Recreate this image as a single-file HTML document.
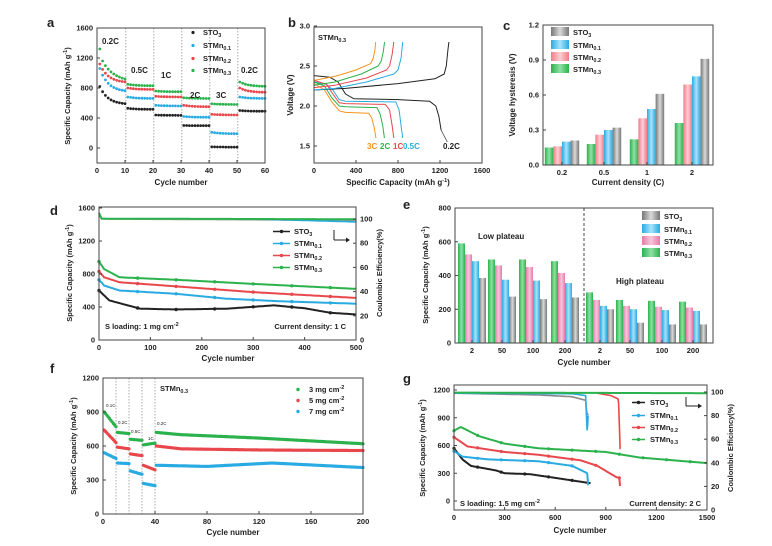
<!DOCTYPE html>
<html><head><meta charset="utf-8"><style>
html,body{margin:0;padding:0;background:#fff;}
svg{display:block;font-family:"Liberation Sans",Arial,sans-serif;}
</style></head><body>
<svg id="s" width="772" height="546" viewBox="0 0 772 546" xmlns="http://www.w3.org/2000/svg"></svg>
<script>
var o='<rect width="772" height="546" fill="#fff"/>';
var K='#222',B='#29abe2',R='#e8474c',G='#2bb24c',O='#f7931e';
function mk(a,b,p,q){return function(v){return p+(v-a)*(q-p)/(b-a);};}
function interp(k,c){if(c<=k[0][0])return k[0][1];for(var i=0;i<k.length-1;i++){if(c<=k[i+1][0]){var t=(c-k[i][0])/(k[i+1][0]-k[i][0]);return k[i][1]+t*(k[i+1][1]-k[i][1]);}}return k[k.length-1][1];}
function T(x,y,s,sz,anc,w,rot,fill){o+='<text x="'+x+'" y="'+y+'" font-size="'+(sz||7.5)+'" text-anchor="'+(anc||'start')+'" font-weight="'+(w||'bold')+'" fill="'+(fill||'#222')+'"'+(rot?' transform="rotate(-90 '+x+' '+y+')"':'')+'>'+s+'</text>';}
function L(x1,y1,x2,y2,c,w,d){o+='<line x1="'+x1+'" y1="'+y1+'" x2="'+x2+'" y2="'+y2+'" stroke="'+(c||'#333')+'" stroke-width="'+(w||1)+'"'+(d?' stroke-dasharray="'+d+'"':'')+'/>';}
function box(x0,y0,x1,y1){o+='<rect x="'+x0+'" y="'+y0+'" width="'+(x1-x0)+'" height="'+(y1-y0)+'" fill="none" stroke="#444" stroke-width="1"/>';}
function xt(X,vals,y1,labels){vals.forEach(function(v,i){var x=X(v);L(x,y1,x,y1-3,'#444');T(x,y1+10,labels?labels[i]:v,7.5,'middle');});}
function yt(Y,vals,x0,right,labels){vals.forEach(function(v,i){var y=Y(v);if(right){L(x0,y,x0-3,y,'#444');T(x0+4,y+2.5,labels?labels[i]:v,7.5,'start');}else{L(x0,y,x0+3,y,'#444');T(x0-4,y+2.5,labels?labels[i]:v,7.5,'end');}});}
function dot(x,y,c,r){o+='<circle cx="'+x.toFixed(1)+'" cy="'+y.toFixed(1)+'" r="'+(r||1.4)+'" fill="'+c+'"/>';}
function pl(pts,c,w){o+='<polyline points="'+pts.map(function(p){return p[0].toFixed(1)+','+p[1].toFixed(1);}).join(' ')+'" fill="none" stroke="'+c+'" stroke-width="'+(w||1.3)+'" stroke-linejoin="round"/>';}
function sub(a,b){return a+'<tspan font-size="5.5" dy="2">'+b+'</tspan><tspan dy="-2"></tspan>';}
var STO=sub('STO','3'),M1=sub('STMn','0.1'),M2=sub('STMn','0.2'),M3=sub('STMn','0.3');
var YT='Specific Capacity (mAh g<tspan font-size="5.5" dy="-3">-1</tspan><tspan dy="3">)</tspan>';

// ---- panel a
T(47,27,'a',13,'start','bold');
(function(){var X=mk(0,60,97,265),Y=mk(0,1600,148,28);
[10,20,30,40,50].forEach(function(c){L(X(c+0.3),28,X(c+0.3),163,'#888',0.7,'1.5,1.5');});
var S=[[K,[[820,580],[530,515],[440,435],[300,298],[15,12],[500,490]]],[B,[[1060,750],[680,660],[570,560],[420,410],[210,190],[680,660]]],[R,[[1120,870],[800,780],[690,680],[570,550],[450,440],[800,740]]],[G,[[1320,920],[850,830],[760,750],[670,660],[590,580],[880,820]]]];
S.forEach(function(s){s[1].forEach(function(v,i){for(var j=1;j<=10;j++){var c=i*10+j;var t=(j-1)/9;var val=v[1]+(v[0]-v[1])*Math.exp(-3*t)*(1-t*0.05);if(s[0]==G&&i==0&&j==1)val=1320;if(s[0]==G&&i==0&&j>1){t=(j-2)/8;val=920+240*Math.exp(-2.2*t)-240*Math.exp(-2.2)*t;}dot(X(c),Y(val),s[0]);}});});
box(97,28,265,163);xt(X,[0,10,20,30,40,50,60],163);yt(Y,[0,400,800,1200,1600],97);
T(102,44,'0.2C',8);T(131,73,'0.5C',8);T(161,78,'1C',8);T(190,98,'2C',8);T(216,98,'3C',8);T(241,73,'0.2C',8);
[[K,STO,35],[B,M1,48],[R,M2,61],[G,M3,73]].forEach(function(l){dot(193,l[2]-2.5,l[0],1.6);T(203,l[2],l[1],7.5);});
T(70,96,YT,7.5,'middle','bold',1);T(181,185,'Cycle number',8,'middle');})();

// ---- panel b
T(288,27,'b',13,'start','bold');
(function(){var X=mk(0,1600,314,482),Y=mk(2,3,106,26);
function curve(pts,c){pl(pts.map(function(p){return [X(p[0]),Y(p[1])];}),c,1);}
curve([[0,2.38],[150,2.36],[230,2.3],[300,2.15],[380,2.09],[800,2.08],[1100,2.06],[1160,2.0],[1190,1.87],[1210,1.7]],K);
curve([[0,2.3],[120,2.27],[180,2.2],[240,2.08],[300,2.06],[780,2.05],[810,1.95],[830,1.75],[845,1.6]],B);
curve([[0,2.32],[120,2.27],[180,2.15],[240,2.04],[300,2.03],[680,2.02],[720,1.95],[745,1.75],[760,1.6]],R);
curve([[0,2.3],[100,2.25],[170,2.1],[240,2.0],[300,1.99],[600,1.98],[630,1.9],[655,1.75],[670,1.6]],G);
curve([[0,2.28],[100,2.2],[170,2.05],[240,1.94],[300,1.92],[520,1.91],[550,1.85],[575,1.72],[590,1.6]],O);
L(X(1210),Y(1.7),X(1270),Y(1.55),'#444',0.8);
curve([[0,2.2],[300,2.22],[800,2.28],[1150,2.34],[1240,2.4],[1260,2.5],[1275,2.7],[1285,2.8]],K);
curve([[0,2.2],[200,2.22],[500,2.3],[760,2.4],[800,2.45],[830,2.6],[845,2.8]],B);
curve([[0,2.23],[200,2.26],[500,2.35],[690,2.45],[720,2.5],[745,2.65],[760,2.8]],R);
curve([[0,2.26],[200,2.3],[450,2.4],[610,2.5],[640,2.56],[660,2.68],[672,2.8]],G);
curve([[0,2.32],[200,2.37],[400,2.45],[540,2.53],[565,2.6],[580,2.7],[588,2.8]],O);
box(314,27,482,163);xt(X,[0,400,800,1200,1600],163);yt(Y,[1.5,2.0,2.5,3.0],314,false,['1.5','2.0','2.5','3.0']);
T(318,40,M3,7.5);
T(367,149,'3C',8,'start','bold',0,O);T(380,149,'2C',8,'start','bold',0,G);T(393,149,'1C',8,'start','bold',0,R);T(403,149,'0.5C',8,'start','bold',0,B);T(443,149,'0.2C',8);
T(293,95,'Voltage (V)',8,'middle','bold',1);T(398,185,YT,8,'middle');})();

// ---- panel c
T(503,30,'c',13,'start','bold');
(function(){var Y=mk(0,1.2,165,25);
o+='<defs>';[['g',G,'#8fe0a5'],['p','#f07c86','#fbd0d4'],['b',B,'#a8e3fb'],['k','#777','#d9d9d9'],['m','#e879a8','#f8c6db']].forEach(function(g){o+='<linearGradient id="'+g[0]+'" x1="0" x2="1"><stop offset="0" stop-color="'+g[1]+'"/><stop offset="0.5" stop-color="'+g[2]+'"/><stop offset="1" stop-color="'+g[1]+'"/></linearGradient>';});o+='</defs>';
var V=[[0.15,0.16,0.20,0.21],[0.18,0.26,0.30,0.32],[0.22,0.40,0.48,0.61],[0.36,0.69,0.76,0.91]],C=[562,604,647,692],F=['g','p','b','k'],w=8.6;
V.forEach(function(g,i){g.forEach(function(v,j){var x=C[i]-2*w+j*w;o+='<rect x="'+x+'" y="'+Y(v)+'" width="'+w+'" height="'+(165-Y(v))+'" fill="url(#'+F[j]+')"/>';});});
box(543,25,713,165);xt(function(v){return C[v];},[0,1,2,3],165,['0.2','0.5','1','2']);yt(Y,[0,0.3,0.6,0.9,1.2],543,false,['0.0','0.3','0.6','0.9','1.2']);
[['k',STO,35],['b',M1,48],['p',M2,60],['g',M3,72]].forEach(function(l){o+='<rect x="551" y="'+(l[2]-8)+'" width="18" height="9" fill="url(#'+l[0]+')"/>';T(573,l[2],l[1],7.5);});
T(515,95,'Voltage hysteresis (V)',8,'middle','bold',1);T(628,185,'Current density (C)',8,'middle');})();

// ---- panel d
T(50,215,'d',13,'start','bold');
(function(){var X=mk(0,500,99,356),Y=mk(0,1600,340,208),CE=mk(0,100,340,219);
var ce=[];for(var c=0;c<=500;c+=5)ce.push([X(c),CE(c<3?104:100-c*0.002)]);pl(ce,'#999',1.6);
var ceg=[];for(c=0;c<=500;c+=5)ceg.push([X(c),CE(c<3?105:100.3-c*0.001)]);
var ceb=[];for(c=300;c<=500;c+=5)ceb.push([X(c),CE(100-(c-300)*0.012)]);pl(ceb,B,1.6);pl(ceg,G,2);
var S=[[K,[[0,600],[20,480],[80,380],[150,370],[250,380],[340,420],[400,385],[450,330],[500,310]]],[B,[[0,730],[10,660],[40,600],[150,560],[250,500],[350,470],[500,440]]],[R,[[0,830],[10,760],[40,700],[150,650],[300,580],[500,510]]],[G,[[0,950],[10,860],[40,760],[150,730],[300,680],[500,620]]]];
S.forEach(function(s){var p=[];for(var c=0;c<=500;c+=2)p.push([X(c),Y(interp(s[1],c))]);pl(p,s[0],2);for(c=0;c<=500;c+=75)dot(X(c),Y(interp(s[1],c)),s[0],1.7);});
box(99,207,356,340);xt(X,[0,100,200,300,400,500],340);yt(Y,[0,400,800,1200,1600],99);yt(CE,[0,20,40,60,80,100],356,true);
[[K,STO,234],[B,M1,246],[R,M2,258],[G,M3,270]].forEach(function(l){L(273,l[2]-2.5,290,l[2]-2.5,l[0],1.5);dot(281.5,l[2]-2.5,l[0],1.7);T(294,l[2],l[1],7.5);});
L(334,230,334,240,'#222',1);L(334,240,346,240,'#222',1);o+='<polygon points="346,237.5 350,240 346,242.5" fill="#222"/>';
T(105,329,'S loading: 1 mg cm'+'<tspan font-size="5.5" dy="-3">-2</tspan>',7.5);T(346,329,'Current density: 1 C',7.5,'end');
T(72,273,YT,7.5,'middle','bold',1);T(382,273,'Coulombic Efficiency(%)',7.5,'middle','bold',1);T(228,361,'Cycle number',8,'middle');})();

// ---- panel e
T(403,209,'e',13,'start','bold');
(function(){var Y=mk(0,800,343,208);
var V=[[590,525,485,385],[495,460,375,275],[495,450,370,260],[485,415,355,270],[300,255,220,200],[255,220,200,120],[250,215,195,110],[245,210,190,110]],C=[472,502,533,565,600,630,662,693],F=['g','m','b','k'],w=7;
V.forEach(function(g,i){g.forEach(function(v,j){var x=C[i]-2*w+j*w;o+='<rect x="'+x+'" y="'+Y(v)+'" width="'+w+'" height="'+(343-Y(v))+'" fill="url(#'+F[j]+')"/>';});});
L(584,208,584,343,'#444',1,'3,2');
box(455,208,713,343);xt(function(v){return C[v];},[0,1,2,3,4,5,6,7],343,['2','50','100','200','2','50','100','200']);yt(Y,[0,200,400,600,800],455);
[['k',STO,219],['b',M1,232],['m',M2,244],['g',M3,256]].forEach(function(l){o+='<rect x="642" y="'+(l[2]-8)+'" width="18" height="9" fill="url(#'+l[0]+')"/>';T(664,l[2],l[1],7.5);});
T(478,239,'Low plateau',8);T(616,284,'High plateau',8);
T(428,275,YT,7.5,'middle','bold',1);T(584,365,'Cycle number',8,'middle');})();

// ---- panel f
T(50,373,'f',13,'start','bold');
(function(){var X=mk(0,200,103,363),Y=mk(0,1200,514,378);
[10,20,30,40].forEach(function(c){L(X(c),378,X(c),514,'#888',0.7,'1.5,1.5');});
var S=[[G,[[[1,900],[10,770]],[[11,720],[20,710]],[[21,660],[30,650]],[[31,610],[40,625]],[[41,720],[60,700],[120,670],[160,645],[200,620]]]],[R,[[[1,740],[10,630]],[[11,590],[20,575]],[[21,530],[30,515]],[[31,430],[40,390]],[[41,600],[60,575],[120,565],[200,560]]]],[B,[[[1,540],[10,490]],[[11,450],[20,445]],[[21,380],[30,350]],[[31,270],[40,250]],[[41,430],[80,420],[130,450],[200,410]]]]];
S.forEach(function(s){s[1].forEach(function(k){for(var c=k[0][0];c<=k[k.length-1][0];c++){dot(X(c),Y(interp(k,c)),s[0],1.6);}});});
box(103,378,363,514);xt(X,[0,40,80,120,160,200],514);yt(Y,[0,300,600,900,1200],103);
T(106,407,'0.1C',4.5,'start','normal');T(118,424,'0.2C',4.5,'start','normal');T(131,433,'0.5C',4.5,'start','normal');T(148,440,'1C',4.5,'start','normal');T(157,425,'0.2C',4.5,'start','normal');
T(160,391,M3,7.5);
[[G,'3 mg cm',392],[R,'5 mg cm',403],[B,'7 mg cm',414]].forEach(function(l){dot(298,l[2]-2.5,l[0],1.7);T(309,l[2],l[1]+'<tspan font-size="5.5" dy="-3">-2</tspan>',7.5);});
T(76,446,YT,7.5,'middle','bold',1);T(233,535,'Cycle number',8,'middle');})();

// ---- panel g
T(403,383,'g',13,'start','bold');
(function(){var X=mk(0,1500,454,707),Y=mk(0,1200,501,390),CE=mk(0,100,510,392);
function cl(k,col,a,b,w){var p=[];for(var x=a;x<=b;x+=3)p.push([X(x),CE(interp(k,x))]);pl(p,col,w||1.6);}
cl([[0,99],[500,97.5],[700,96],[780,93],[785,85],[790,81],[800,81]],'#888',0,800);
cl([[0,99],[700,98.5],[780,97],[785,80],[790,65],[795,80]],B,0,795);
cl([[850,99],[930,97],[975,94],[980,75],[985,52],[988,52]],R,850,988);
cl([[0,99.5],[1500,99]],G,0,1500,2);
var S=[[K,[[0,570],[50,450],[100,380],[250,330],[300,300],[450,290],[600,250],[800,195]],0,810],[B,[[0,540],[50,480],[200,450],[500,430],[700,380],[780,310],[790,300],[795,180],[800,190]],0,800],[R,[[0,690],[80,590],[300,530],[500,500],[750,440],[850,380],[960,260],[980,250],[985,140]],0,985],[G,[[0,760],[40,800],[150,700],[300,620],[500,570],[900,530],[1100,470],[1500,410]],0,1500]];
S.forEach(function(s){var p=[];for(var c=s[2];c<=s[3];c+=3)p.push([X(c),Y(interp(s[1],c))]);pl(p,s[0],2);for(c=0;c<=s[3];c+=140)dot(X(c),Y(interp(s[1],c)),s[0],1.6);});
box(454,385,707,510);xt(X,[0,300,600,900,1200,1500],510);yt(Y,[0,300,600,900,1200],454);yt(CE,[0,20,40,60,80,100],707,true);
[[K,STO,405],[B,M1,418],[R,M2,430],[G,M3,442]].forEach(function(l){L(632,l[2]-2.5,645,l[2]-2.5,l[0],1.5);dot(638.5,l[2]-2.5,l[0],1.7);T(650,l[2],l[1],7.5);});
L(686,397,686,406,'#222',1);L(686,406,698,406,'#222',1);o+='<polygon points="698,403.5 702,406 698,408.5" fill="#222"/>';
T(460,506,'S loading: 1.5 mg cm<tspan font-size="5.5" dy="-3">-2</tspan>',7.5);T(701,506,'Current density: 2 C',7.5,'end');
T(425,448,YT,7.5,'middle','bold',1);T(733,448,'Coulombic Efficiency(%)',7.5,'middle','bold',1);T(580,533,'Cycle number',8,'middle');})();

document.getElementById('s').innerHTML=o;
</script>
</body></html>
